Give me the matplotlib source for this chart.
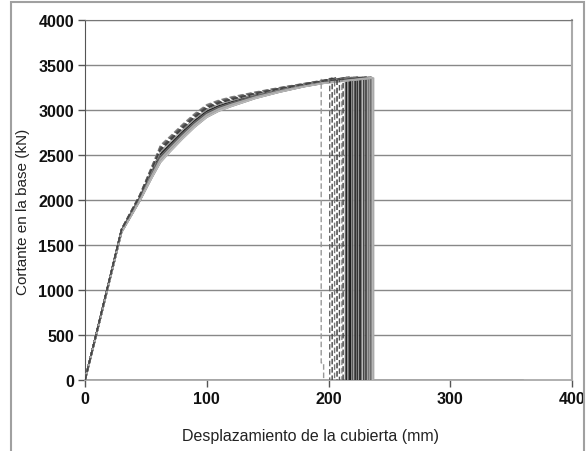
import matplotlib
matplotlib.use('Agg')
import matplotlib.pyplot as plt
from matplotlib.patches import Rectangle

plt.rcParams['font.family'] = ['Liberation Sans', 'DejaVu Sans']

# upper and lower envelope of the pushover band (mm, kN)
env_x = [0, 10, 20, 30, 45, 55, 62, 70, 80, 90, 100, 110, 120, 140, 160, 180, 195]
env_hi = [0, 560, 1120, 1680, 2060, 2380, 2610, 2710, 2840, 2960, 3060, 3110, 3145, 3200, 3250, 3295, 3330]
env_lo = [0, 540, 1090, 1640, 1990, 2250, 2420, 2540, 2680, 2810, 2920, 2990, 3040, 3130, 3200, 3260, 3295]

# dashed curves: ultimate displacement, position in band, plateau force
dash_end = [194, 201, 203, 205, 207, 209, 211, 212]
dash_w = [1.0, 0.9, 0.8, 0.95, 0.7, 0.85, 0.6, 0.75]
dash_top = [3340, 3350, 3355, 3345, 3360, 3350, 3355, 3345]
dash_col = ['#999999', '#666666', '#444444', '#777777', '#333333', '#555555', '#888888', '#444444']

# solid curves
solid_end = [214, 215, 216, 217, 218, 219, 220, 221, 222, 223, 224, 225, 226,
             227, 228, 229, 230, 231, 232, 233, 234, 235, 236, 237]
solid_w = [0.5, 0.3, 0.45, 0.6, 0.2, 0.4, 0.1, 0.55, 0.35, 0.0, 0.5, 0.25,
           0.4, 0.15, 0.6, 0.3, 0.05, 0.45, 0.2, 0.35, 0.1, 0.3, 0.0, 0.2]
solid_top = [3355, 3360, 3350, 3365, 3355, 3360, 3350, 3365, 3355, 3360, 3365, 3355,
             3360, 3350, 3365, 3355, 3360, 3365, 3355, 3360, 3350, 3365, 3360, 3355]
solid_col = ['#666666', '#222222', '#999999', '#444444', '#000000', '#888888', '#555555',
             '#aaaaaa', '#111111', '#777777', '#333333', '#999999', '#000000', '#666666',
             '#bbbbbb', '#444444', '#888888', '#222222', '#aaaaaa', '#777777', '#999999',
             '#555555', '#bbbbbb', '#aaaaaa']

yticks = [0, 500, 1000, 1500, 2000, 2500, 3000, 3500, 4000]
xticks = [0, 100, 200, 300, 400]

fig = plt.figure(figsize=(5.87, 4.52), dpi=100)
fig.patches.append(Rectangle((11 / 587, -0.05), 573 / 587, 1.05 - 3 / 452,
                             transform=fig.transFigure, fill=False,
                             edgecolor='#a0a0a0', lw=1.5))
ax = fig.add_axes([85 / 587, 1 - 381 / 452, 487 / 587, 360 / 452])


def curve(end, w, top):
    xs = list(env_x) + [end, end]
    ys = [lo + w * (hi - lo) for lo, hi in zip(env_lo, env_hi)] + [top, 0]
    return xs, ys


for e, w, t, c in zip(solid_end, solid_w, solid_top, solid_col):
    xs, ys = curve(e, w, t)
    ax.plot(xs, ys, color=c, lw=1.2, zorder=3)

for i, (e, w, t, c) in enumerate(zip(dash_end, dash_w, dash_top, dash_col)):
    xs, ys = curve(e, w, t)
    if i == 0:
        xs = xs[:-1] + [e, e + 2, e + 2]
        ys = ys[:-1] + [190, 190, 0]
    ax.plot(xs, ys, color=c, lw=1.0, ls=(0, (4, 2)), zorder=4)

ax.plot([0, 360], [0, 0], color='#777777', lw=1.2, zorder=2)

ax.set_xlim(0, 400)
ax.set_ylim(0, 4000)
ax.set_xticks(xticks)
ax.set_yticks(yticks)
for y in yticks[1:]:
    ax.axhline(y, color='#888888', lw=1.0, zorder=1)

ax.tick_params(direction='out', length=5, width=1, colors='#555555',
               labelsize=11.5, labelcolor='#111111', pad=3)
for lab in ax.get_xticklabels() + ax.get_yticklabels():
    lab.set_fontweight('bold')

ax.spines['left'].set_color('#555555')
ax.spines['top'].set_color('#777777')
ax.spines['right'].set_color('#aaaaaa')
ax.spines['right'].set_linewidth(1.5)
ax.spines['bottom'].set_color('#aaaaaa')
ax.spines['bottom'].set_linewidth(1.3)

ax.set_xlabel('Desplazamiento de la cubierta (mm)', fontsize=11.5, color='#222222')
ax.set_ylabel('Cortante en la base (kN)', fontsize=11, color='#222222')
ax.xaxis.set_label_coords(0.464, -48 / 360)
ax.yaxis.set_label_coords(-55 / 487, 0.469)

fig.savefig('out.png', dpi=100)
